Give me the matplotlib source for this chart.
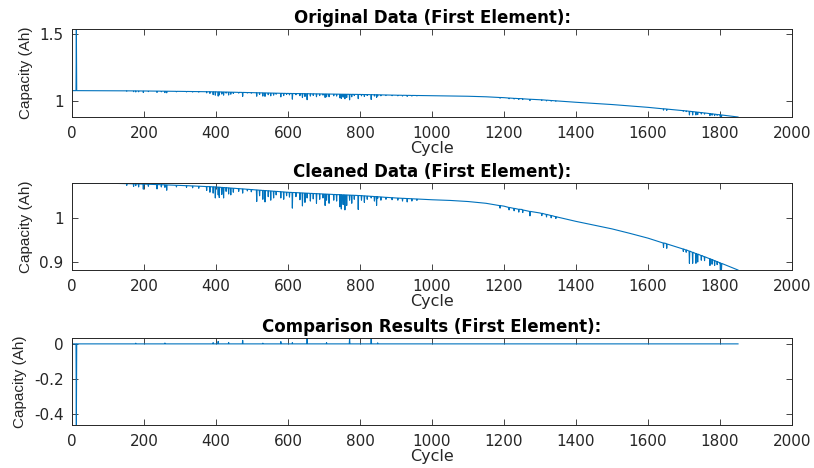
import numpy as np
import matplotlib
matplotlib.use("Agg")
from matplotlib import pyplot as plt
from matplotlib.ticker import FuncFormatter

# smooth part of the cleaned capacity curve (cycle, Ah)
knot_cycle = [1, 100, 200, 300, 400, 500, 600, 700, 800, 900, 1000, 1050,
              1100, 1150, 1200, 1250, 1300, 1350, 1400, 1450, 1500, 1550,
              1600, 1650, 1700, 1750, 1800, 1850]
knot_cap = [1.0790, 1.0785, 1.0765, 1.0735, 1.0700, 1.0640, 1.0580, 1.0540, 1.0505, 1.0450, 1.0410, 1.0395,
            1.0370, 1.0330, 1.0265, 1.0190, 1.0110, 1.0015, 0.9920, 0.9835, 0.9750, 0.9648,
            0.9540, 0.9420, 0.9290, 0.9145, 0.8980, 0.8818]

# one-cycle dips in the cleaned curve: cycle, level around the dip, bottom of the dip
dip_cycle = [12, 152, 171, 177, 185, 198, 212, 236, 248, 258, 263, 290, 318, 335, 352,
             374, 383, 392, 398, 406, 409, 416, 421, 428, 435, 441, 448,
             463, 474, 487, 498, 513, 521, 530, 536, 545, 552, 560, 567,
             580, 588, 596, 604, 612, 622, 633, 640, 647, 653, 662, 670, 679, 688, 697, 703, 707, 714,
             727, 735, 744, 748, 753, 758, 763, 771, 777, 784, 795, 804, 812, 820, 831, 840, 846, 849, 858,
             872, 889, 905, 918, 931, 944, 958,
             1189, 1214, 1228, 1241, 1252, 1272, 1305, 1318, 1331, 1344,
             1643, 1652, 1698, 1706, 1715, 1724, 1733, 1738, 1748, 1757, 1772, 1778, 1785, 1792, 1801, 1804]
dip_base = [1.0790, 1.0775, 1.0771, 1.0770, 1.0768, 1.0765, 1.0761, 1.0754, 1.0751, 1.0748, 1.0746, 1.0738, 1.0729, 1.0723, 1.0717,
            1.0709, 1.0706, 1.0703, 1.0701, 1.0696, 1.0695, 1.0690, 1.0687, 1.0683, 1.0679, 1.0675, 1.0671,
            1.0662, 1.0656, 1.0648, 1.0641, 1.0632, 1.0627, 1.0622, 1.0618, 1.0613, 1.0609, 1.0604, 1.0600,
            1.0592, 1.0587, 1.0582, 1.0578, 1.0575, 1.0571, 1.0567, 1.0564, 1.0561, 1.0559, 1.0555, 1.0552, 1.0548, 1.0545, 1.0541, 1.0539, 1.0537, 1.0535,
            1.0530, 1.0527, 1.0525, 1.0523, 1.0521, 1.0520, 1.0518, 1.0515, 1.0513, 1.0511, 1.0507, 1.0503, 1.0498, 1.0494, 1.0488, 1.0483, 1.0480, 1.0478, 1.0473,
            1.0465, 1.0456, 1.0448, 1.0443, 1.0438, 1.0432, 1.0427,
            1.0277, 1.0236, 1.0215, 1.0195, 1.0178, 1.0146, 1.0102, 1.0078, 1.0053, 1.0026,
            0.9430, 0.9408, 0.9295, 0.9273, 0.9247, 0.9220, 0.9193, 0.9178, 0.9148, 0.9118, 0.9074, 0.9054, 0.9031, 0.9008, 0.8977, 0.8967]
dip_low = [1.0790, 1.0735, 1.0710, 1.0730, 1.0700, 1.0650, 1.0715, 1.0655, 1.0700, 1.0690, 1.0625, 1.0700, 1.0690, 1.0680, 1.0670,
           1.0620, 1.0580, 1.0560, 1.0450, 1.0520, 1.0460, 1.0530, 1.0450, 1.0600, 1.0540, 1.0520, 1.0580,
           1.0600, 1.0560, 1.0610, 1.0590, 1.0370, 1.0500, 1.0420, 1.0360, 1.0480, 1.0400, 1.0450, 1.0520,
           1.0450, 1.0420, 1.0500, 1.0470, 1.0220, 1.0480, 1.0410, 1.0270, 1.0350, 1.0450, 1.0380, 1.0430, 1.0330, 1.0420, 1.0450, 1.0280, 1.0400, 1.0330,
           1.0400, 1.0380, 1.0250, 1.0200, 1.0300, 1.0180, 1.0280, 1.0400, 1.0330, 1.0420, 1.0190, 1.0400, 1.0350, 1.0420, 1.0450, 1.0380, 1.0280, 1.0440, 1.0400,
           1.0420, 1.0410, 1.0400, 1.0380, 1.0360, 1.0380, 1.0395,
           1.0220, 1.0180, 1.0160, 1.0130, 1.0120, 1.0045, 1.0050, 1.0020, 1.0000, 0.9985,
           0.9330, 0.9310, 0.9240, 0.9220, 0.8970, 0.8970, 0.8970, 0.9000, 0.9040, 0.9030, 0.8920, 0.8950, 0.8920, 0.8940, 0.8825, 0.8822]

# raw readings that the cleaning step changed
raw_cycle = [12, 177, 258, 392, 406, 435, 474, 530, 580, 612, 653, 707, 771, 831, 849]
raw_cap = [1.5400, 1.0690, 1.0640, 1.0490, 1.0380, 1.0460, 1.0360, 1.0380, 1.0320, 1.0150, 1.0110, 1.0330, 1.0100, 1.0130, 1.0380]

pts = list(zip(knot_cycle, knot_cap))
for c, b, lo in zip(dip_cycle, dip_base, dip_low):
  pts += [(c - 1, b), (c, lo), (c + 1, b)]
pts.sort()
cycle = np.array([p[0] for p in pts])
cleaned = np.array([p[1] for p in pts])

original = cleaned.copy()
for c, v in zip(raw_cycle, raw_cap):
  original[cycle == c] = v
comparison = cleaned - original

plt.rcParams["axes.unicode_minus"] = False
plt.rcParams["font.family"] = "DejaVu Sans"

blue = "#0072BD"
dark = "#262626"

fig = plt.figure(figsize=(8.14, 4.68), dpi=100)

panels = [
  ([0.0885, 0.750, 0.8845, 0.188], original, "Original Data (First Element):", [1, 1.5]),
  ([0.0885, 0.423, 0.8845, 0.186], cleaned, "Cleaned Data (First Element):", [0.9, 1]),
  ([0.0885, 0.092, 0.8845, 0.186], comparison, "Comparison Results (First Element):", [-0.4, -0.2, 0]),
]

for rect, values, title, yt in panels:
  ax = fig.add_axes(rect)
  ax.plot(cycle, values, color=blue, linewidth=0.8)
  ax.set_xlim(0, 2000)
  ax.set_ylim(values.min(), values.max())
  ax.set_xticks(range(0, 2001, 200))
  ax.set_yticks(yt)
  ax.yaxis.set_major_formatter(FuncFormatter(lambda v, p: "%g" % round(v, 4)))
  ax.tick_params(direction="in", length=4, width=0.6, colors=dark, labelsize=11,
                 top=True, right=True, pad=6)
  ax.tick_params(axis="x", pad=6.5)
  for s in ax.spines.values():
    s.set_color(dark)
    s.set_linewidth(0.7)
  ax.set_title(title, fontsize=12, fontweight="bold", pad=4)
  ax.set_xlabel("Cycle", fontsize=11.5, color=dark, labelpad=0)
  ax.set_ylabel("Capacity (Ah)", fontsize=11, family="Liberation Sans", color=dark, labelpad=5)

plt.savefig("out.png", dpi=100)
